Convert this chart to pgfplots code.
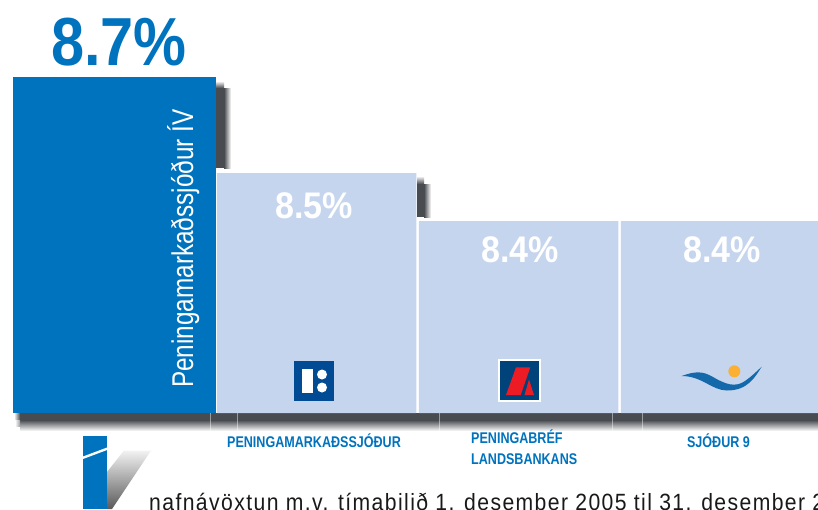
\documentclass[border=0pt]{standalone}
\usepackage{fontspec}
\usepackage{pgfplots}
\pgfplotsset{compat=1.18}
\setmainfont{Liberation Sans}[FakeStretch=0.875]
\newfontfamily\valfont{Liberation Sans}[FakeStretch=0.92]
\newfontfamily\vertfont{Liberation Sans}[FakeStretch=0.81]
\newfontfamily\catfont{Liberation Sans}[FakeStretch=0.81]
\newfontfamily\footfont{Liberation Sans}[FakeStretch=0.9,LetterSpace=6]
\definecolor{mainblue}{RGB}{0,115,190}
\definecolor{lightbar}{RGB}{198,213,238}
\definecolor{shadowc}{RGB}{72,75,80}
\definecolor{logoblue}{RGB}{0,75,147}
\definecolor{logonavy}{RGB}{0,66,122}
\definecolor{logored}{RGB}{237,28,36}
\definecolor{swoosh}{RGB}{20,105,170}
\definecolor{sun}{RGB}{251,176,52}
\begin{document}
\begin{tikzpicture}[x=1pt,y=-1pt]
\useasboundingbox (0,0) rectangle (818,509);
\begin{scope}[overlay]
\clip (0,0) rectangle (818,509);
\fill[white] (0,0) rectangle (818,509);
% shadows under the bars
\fill[shadowc] (20,413) rectangle (818,420);
\shade[top color=shadowc,bottom color=white] (20,420) rectangle (818,431);
\shade[left color=white,right color=shadowc] (14,413) rectangle (20,420);
\shade[left color=white,right color=shadowc!55!white] (15,420) rectangle (20,426);
\fill[white,opacity=.45] (209.7,413) rectangle (210.4,431);
\fill[white,opacity=.45] (236.8,413) rectangle (237.5,431);
\fill[white,opacity=.45] (438.8,413) rectangle (439.5,431);
\fill[white,opacity=.45] (611.8,413) rectangle (612.5,431);
\fill[white,opacity=.45] (641.5,413) rectangle (642.2,431);
\fill[shadowc] (216,88) rectangle (224,168);
\shade[left color=shadowc,right color=white] (224,88) rectangle (231,168);
\shade[top color=white,bottom color=shadowc] (216,81) rectangle (224,88);
\fill[shadowc] (417,184) rectangle (424,217);
\shade[left color=shadowc,right color=white] (424,184) rectangle (431,217);
\shade[top color=white,bottom color=shadowc] (417,176) rectangle (424,184);
\begin{axis}[
  at={(0,0)},anchor=north west,
  scale only axis,width=818pt,height=413pt,
  xmin=-0.56683,xmax=3.48267,ymin=8,ymax=8.8604,
  hide axis,ybar,
]
\addplot[fill=mainblue,draw=none,bar width=203pt,bar shift=0pt] coordinates {(0,8.7)};
\addplot[fill=lightbar,draw=none,bar width=199.5pt,bar shift=0pt] coordinates {(1,8.5)(2,8.4)(3,8.4)};
\end{axis}
% values
\node[font=\fontsize{68}{68}\selectfont\bfseries,text=mainblue,anchor=center,inner sep=0] at (119,42) {8.7\%};
\node[font=\valfont\fontsize{37}{37}\selectfont\bfseries,text=white,anchor=center,inner sep=0] at (314,206) {8.5\%};
\node[font=\valfont\fontsize{37}{37}\selectfont\bfseries,text=white,anchor=center,inner sep=0] at (520,250) {8.4\%};
\node[font=\valfont\fontsize{37}{37}\selectfont\bfseries,text=white,anchor=center,inner sep=0] at (722,250) {8.4\%};
\node[font=\vertfont\fontsize{30}{30}\selectfont,text=white,rotate=90,anchor=base west,inner sep=0] at (193,388) {Peningamarkaðssjóður ÍV};
% category names
\node[font=\catfont\fontsize{15.5}{15.5}\selectfont\bfseries,text=mainblue,anchor=base,inner sep=0] at (314,447.5) {PENINGAMARKAÐSSJÓÐUR};
\node[font=\catfont\fontsize{15.5}{15.5}\selectfont\bfseries,text=mainblue,anchor=base west,inner sep=0] at (471,443) {PENINGABRÉF};
\node[font=\catfont\fontsize{15.5}{15.5}\selectfont\bfseries,text=mainblue,anchor=base west,inner sep=0] at (471,464.5) {LANDSBANKANS};
\node[font=\catfont\fontsize{15.5}{15.5}\selectfont\bfseries,text=mainblue,anchor=base,inner sep=0] at (718.5,447.5) {SJÓÐUR 9};
% logo 1
\fill[logoblue] (294,361) rectangle (334,401);
\fill[white] (302,369) rectangle (313,393);
\fill[white] (322,374.5) circle (5);
\fill[white] (322,387.5) circle (5);
% logo 2
\fill[white] (498,359) rectangle (541,402);
\fill[logonavy] (500,361) rectangle (539,400);
\fill[logored] (516,367.3) -- (530.3,367.3) -- (520.7,395) -- (506,395) -- cycle;
\fill[logored] (524.5,395) -- (529,379.5) -- (534,395) -- cycle;
% swoosh
\fill[swoosh] (681.7,376) .. controls (695,371) and (703,371) .. (713,377) .. controls (725,384) and (735,388) .. (745,381) .. controls (751,377) and (757,371) .. (761.7,366.7) .. controls (755,377) and (748,390.5) .. (727,390.5) .. controls (712,390.5) and (702,376) .. (681.7,376) -- cycle;
\fill[sun] (734.3,371.3) circle (6);
% footer
\shade[top color=black!5,bottom color=black!65] (124,450.5) -- (151,450.5) -- (112,509) -- (107,509) -- (107,472) -- cycle;
\fill[mainblue] (83,436) rectangle (107,509);
\fill[white] (83,456.5) -- (107,447.5) -- (107,450) -- (83,459) -- cycle;
\node[font=\footfont\fontsize{23.5}{23.5}\selectfont,text=black!90,anchor=base west,inner sep=0] at (149,510.5) {nafnávöxtun m.v. tímabilið 1. desember 2005 til 31. desember 2};
\end{scope}
\end{tikzpicture}
\end{document}
